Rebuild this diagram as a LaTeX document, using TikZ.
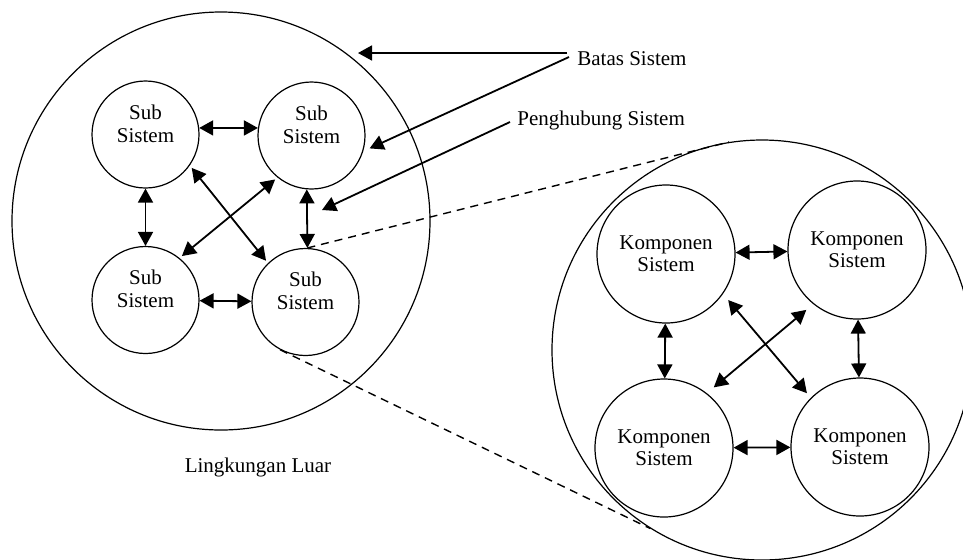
\documentclass[tikz,border=0pt]{standalone}
\usepackage{fontspec}
\setmainfont{Liberation Serif}
\usetikzlibrary{arrows.meta}
\tikzset{subsys/.style={circle,draw=black,line width=0.6pt,inner sep=0pt,
minimum size=53.5pt, align=center, text depth=11pt, font=\fontsize{10.5}{11.5}\selectfont},
komp/.style={circle,draw=black,line width=0.6pt,inner sep=0pt,
minimum size=69pt, align=center, font=\fontsize{10.5}{11.2}\selectfont},
boundary/.style={circle,draw=black,line width=0.6pt,inner sep=0pt},
note/.style={inner sep=1pt, font=\fontsize{10.5}{12}\selectfont},
link/.style={<->,line width=0.9pt},
pointer/.style={->,line width=0.9pt},
zoomline/.style={line width=0.7pt,dash pattern=on 4pt off 3pt},
>={Triangle[length=7pt,width=7.5pt]}}

\begin{document}
\begin{tikzpicture}[x=0.5pt,y=-0.5pt]
  \useasboundingbox (0,0) rectangle (963,559);
  \clip (0,0) rectangle (963,559);

  % sistem dan lingkungan
  \node(bigL) [boundary, minimum size=209pt] at (221,221) {};
  \node(bigR) [boundary, minimum size=210pt] at (762,350) {};

  \node(s1) [subsys] at (145.5,134.5) {Sub\\Sistem};
  \node(s2) [subsys] at (311.5,135.5) {Sub\\Sistem};
  \node(s3) [subsys] at (145.5,300) {Sub\\Sistem};
  \node(s4) [subsys] at (305.5,302) {Sub\\Sistem};

  \node(k1) [komp] at (666,254) {Komponen\\Sistem};
  \node(k2) [komp] at (857,250) {Komponen\\Sistem};
  \node(k3) [komp] at (664,448) {Komponen\\Sistem};
  \node(k4) [komp] at (860,447) {Komponen\\Sistem};

  \node(batas) [note, anchor=west] at (575,59) {Batas Sistem};
  \node(peng) [note, anchor=west] at (515,120) {Penghubung Sistem};
  \node(luar) [note] at (258,467) {Lingkungan Luar};

  \coordinate (bt) at (358,53);
  \coordinate (ph) at (322,210);

\draw
(s1.7)
   edge [link]
(s2.172);
\draw
(s1)
   edge [link]
(s3);
\draw
(s2.265)
   edge [link]
(s4.88);
\draw
(s3)
   edge [link]
(s4);
\draw
(s1.-35)
   edge [link,shorten <=1.5pt,shorten >=1.5pt]
(s4.134);
\draw
(s2.231)
   edge [link,shorten <=1.5pt,shorten >=1.5pt]
(s3.51);
\draw
(k1)
   edge [link]
(k2);
\draw
(k3)
   edge [link]
(k4);
\draw
(k1)
   edge [link]
(k3);
\draw
(k2)
   edge [link]
(k4);
\draw
(k1.-35)
   edge [link,shorten <=4pt,shorten >=3pt]
(k4.135);
\draw
(k2.231)
   edge [link,shorten <=4.5pt,shorten >=4.5pt]
(k3.52);
\draw
([xshift=-4pt,yshift=3pt]batas.west)
   edge [pointer]
(bt);
\draw
([xshift=-3pt,yshift=1pt]batas.west)
   edge [pointer,shorten >=3.5pt]
(s2.-17);
\draw
([xshift=-2.5pt,yshift=-1pt]peng.west)
   edge [pointer]
(ph);
\draw
(s4.88)
   edge [zoomline]
(bigR.99);
\draw
(s4.242)
   edge [zoomline]
(bigR.238);
\end{tikzpicture}
\end{document}
